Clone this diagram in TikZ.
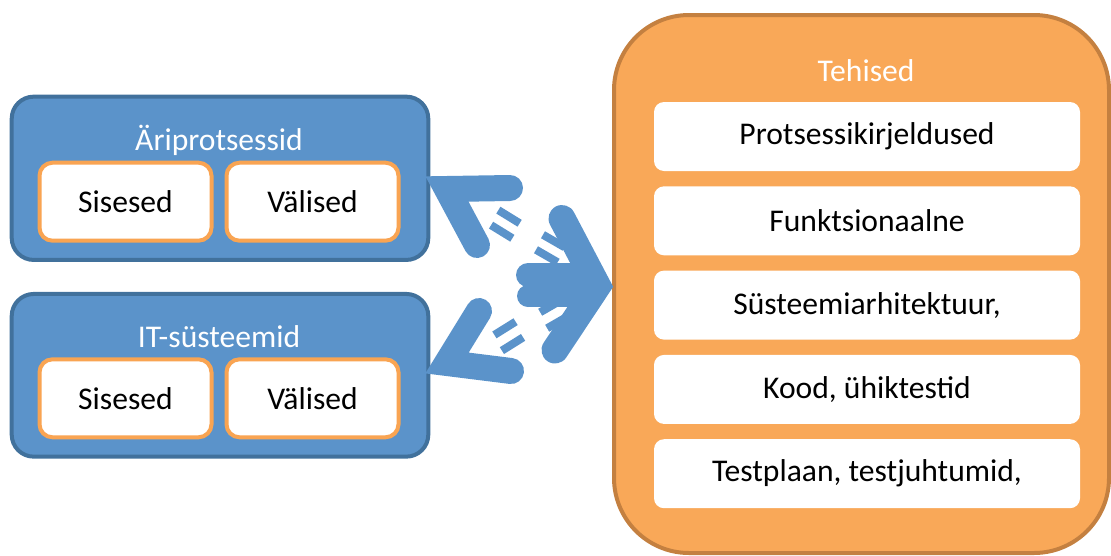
\documentclass[tikz,border=0pt]{standalone}
\usepackage{fontspec}
\setmainfont{Carlito}
\definecolor{bluefill}{RGB}{91,147,202}
\definecolor{blueborder}{RGB}{65,113,156}
\definecolor{arrowblue}{RGB}{91,147,202}
\definecolor{orangefill}{RGB}{249,168,88}
\definecolor{brownborder}{RGB}{196,128,64}
\definecolor{innerorange}{RGB}{249,164,82}
\tikzset{
  bluebox/.style={fill=bluefill, draw=blueborder, line width=4pt, rounded corners=22pt, inner sep=0pt},
  innerbox/.style={fill=white, draw=innerorange, line width=4pt, rounded corners=13pt, inner sep=0pt,
    minimum width=172pt, minimum height=78pt, text=black},
  bigbox/.style={fill=orangefill, draw=brownborder, line width=4pt, rounded corners=75pt, inner sep=0pt},
  whitebox/.style={fill=white, rounded corners=10pt, inner sep=0pt, minimum width=426pt, minimum height=69pt, text=black},
  titletext/.style={text=white, inner sep=0pt},
  arm/.style={draw=arrowblue, line cap=round, line join=miter},
  motionbar/.style={fill=arrowblue, inner sep=0pt, minimum width=25pt, minimum height=8pt},
}
\begin{document}
\begin{tikzpicture}[x=1pt, y=-1pt, font=\fontsize{31.6}{38}\selectfont]
\useasboundingbox (0,0) rectangle (1111,555);
\clip (0,0) rectangle (1111,555);

% left group boxes
\node[bluebox, minimum width=416.6pt, minimum height=163.3pt] (biz) at (220,178.3) {};
\node[titletext] (biztitle) at (219,140) {Äriprotsessid};
\node[innerbox] (bizin) at (125.5,201.7) {Sisesed};
\node[innerbox] (bizout) at (312.5,201.7) {Välised};

\node[bluebox, minimum width=416.6pt, minimum height=162.7pt] (its) at (220,375.3) {};
\node[titletext] (itstitle) at (219,336.7) {IT-süsteemid};
\node[innerbox] (itsin) at (125.5,398.3) {Sisesed};
\node[innerbox] (itsout) at (312.5,398.3) {Välised};

% right big box
\node[bigbox, minimum width=495pt, minimum height=538pt] (teh) at (861.5,284) {};
\node[titletext] (tehtitle) at (866,71) {Tehised};
\node[whitebox] (w1) at (867,136.5) {Protsessikirjeldused};
\node[whitebox] (w2) at (867,220.8) {Funktsionaalne};
\node[whitebox] (w3) at (867,305.1) {Süsteemiarhitektuur,};
\node[whitebox] (w4) at (867,389.4) {Kood, ühiktestid};
\node[whitebox] (w5) at (867,473.7) {Testplaan, testjuhtumid,};

% motion bars
\node[motionbar, rotate=-31.6] (b1) at (509,216.7) {};
\node[motionbar, rotate=-31.6] (b2) at (501.7,231.7) {};
\node[motionbar, rotate=32] (b3) at (505,328.3) {};
\node[motionbar, rotate=32] (b4) at (512.5,344) {};
\node[motionbar, rotate=-30] (b5) at (553.8,241) {};
\node[motionbar, rotate=-30] (b6) at (546.8,256) {};
\node[motionbar, rotate=30] (b7) at (551,306) {};
\node[motionbar, rotate=30] (b8) at (558,322) {};

% right chevron body
\fill[arrowblue] (528,263) rectangle (595,307);
\fill[arrowblue] (528,275) circle (12pt);
\fill[arrowblue] (528,296) circle (11pt);

% arrows
\coordinate (r1) at (562,218.5);
\coordinate (rv) at (597.5,286);
\coordinate (r2) at (555,350);
\draw[arm, line width=27pt] (r1) -- (rv) -- (r2);

\coordinate (u1) at (510,188);
\coordinate (uv) at (447,189);
\coordinate (u2) at (477,245);
\draw[arm, line width=26pt] (u1) -- (uv) -- (u2);

\coordinate (l1) at (511,371);
\coordinate (lv) at (447,363);
\coordinate (l2) at (479,311);
\draw[arm, line width=26pt] (l1) -- (lv) -- (l2);
\end{tikzpicture}
\end{document}
